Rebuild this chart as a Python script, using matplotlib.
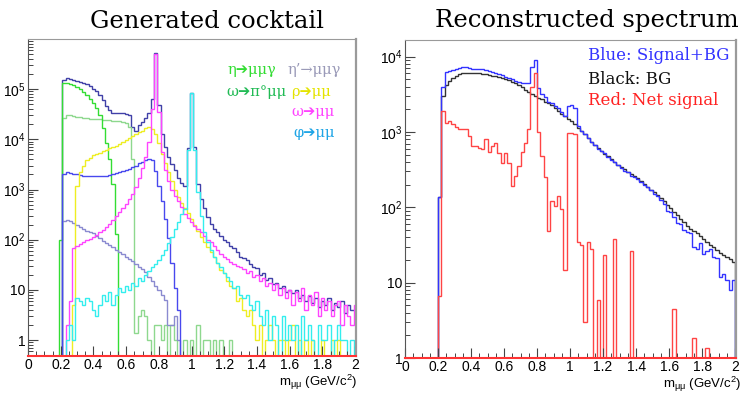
import numpy as np
import matplotlib
matplotlib.use("Agg")
import matplotlib.pyplot as plt
from matplotlib.ticker import FixedLocator, LogLocator, MultipleLocator, FuncFormatter, NullFormatter

plt.rcParams['font.family'] = ['Liberation Sans', 'DejaVu Sans']
plt.rcParams['mathtext.fontset'] = 'custom'
plt.rcParams['mathtext.rm'] = 'Liberation Sans'
plt.rcParams['mathtext.it'] = 'Liberation Sans'
plt.rcParams['mathtext.bf'] = 'Liberation Sans:bold'

NBINS = 100


def pad(first, vals):
    # put the read values into a 100 bin histogram, empty bins = 0
    out = [0] * first + list(vals)
    return out + [0] * (NBINS - len(out))


# ---- left: generated cocktail, 0.02 GeV bins, first edge 0.01 ----
left_lo = 0.01
left_w = 0.02

total = pad(10, [1.55e5, 1.65e5, 1.6e5, 1.55e5, 1.48e5, 1.42e5, 1.35e5, 1.25e5, 1.15e5, 1.03e5,
                 9.0e4, 7.5e4, 6.0e4, 4.6e4, 3.8e4, 3.4e4, 3.35e4, 3.3e4, 3.3e4, 3.25e4,
                 3.1e4, 1.8e4, 1.5e4, 1.9e4, 2.2e4, 2.7e4, 3.4e4, 6.5e4, 5.2e5, 4.8e4,
                 1.3e4, 7.0e3, 4.5e3, 3.2e3, 2.5e3, 1.7e3, 1.35e3, 1.2e3, 6.8e3, 8.4e4,
                 7.0e3, 1.3e3, 650, 420, 280, 210, 165, 140, 118, 100,
                 88, 76, 68, 58, 45, 44, 40, 32, 29, 27,
                 20, 22, 16, 17, 13, 14, 11, 12, 9, 10,
                 8.5, 10, 7, 8, 6, 7.5, 5.5, 7, 4.5, 6,
                 5, 7, 4, 5.5, 4.5, 6, 3.5, 5, 4, 4])
eta_mmg = pad(9, [100, 1.3e5, 1.35e5, 1.28e5, 1.2e5, 1.12e5, 1.02e5, 8.8e4, 7.5e4, 6.3e4, 5.3e4,
                  4.2e4, 3.0e4, 1.7e4, 8.5e3, 4.0e3, 1.3e3, 130])
omega_dalitz = pad(10, [2.7e4, 3.0e4, 3.0e4, 2.9e4, 2.8e4, 2.75e4, 2.7e4, 2.65e4, 2.6e4, 2.55e4,
                        2.5e4, 2.5e4, 2.45e4, 2.4e4, 2.4e4, 2.35e4, 2.3e4, 2.3e4, 2.2e4, 2.1e4,
                        1.8e4, 4.0e3, 1.4, 3, 4, 3, 1, 0, 2, 2,
                        1, 2, 0, 2, 1, 0, 0, 1, 0, 1,
                        0, 2, 0, 1, 1, 0, 1, 0, 1, 0,
                        0, 1])
etap_mmg = pad(10, [2.0e3, 2.2e3, 2.1e3, 2.0e3, 2.0e3, 1.95e3, 1.9e3, 1.9e3, 1.85e3, 1.85e3,
                    1.85e3, 1.9e3, 1.9e3, 1.9e3, 1.95e3, 2.0e3, 2.1e3, 2.2e3, 2.3e3, 2.4e3,
                    2.6e3, 2.8e3, 3.0e3, 3.3e3, 3.6e3, 3.9e3, 4.1e3, 3.8e3, 2.3e3, 1.2e3,
                    600, 260, 110, 35, 11, 4])
etap_low = pad(10, [240, 250, 235, 215, 195, 180, 160, 150, 140, 135,
                    120, 110, 95, 85, 80, 70, 62, 56, 52, 46,
                    42, 38, 33, 28, 26, 23, 18, 15, 12, 10,
                    8, 6.3, 2, 2, 3, 1])
rho_mm = pad(13, [5, 1.2e3, 2.2e3, 3.0e3, 3.8e3, 4.3e3, 4.8e3,
                  5.1e3, 5.4e3, 5.8e3, 6.2e3, 6.6e3, 7.0e3, 7.5e3, 8.2e3, 9.0e3, 9.8e3,
                  1.07e4, 1.15e4, 1.25e4, 1.37e4, 1.5e4, 1.65e4, 1.8e4, 1.6e4, 1.25e4, 8.3e3,
                  5.2e3, 3.3e3, 2.2e3, 1.5e3, 1.0e3, 720, 550, 430, 340, 260,
                  200, 150, 115, 90, 70, 56, 46, 35, 25, 22,
                  15, 12, 11, 6, 7, 4, 3, 4, 2, 1,
                  2, 0, 1, 2, 1, 0, 1, 1, 0, 1,
                  2, 0, 1, 0, 1, 0, 1, 0, 0, 1,
                  0, 0, 1, 0, 1])
omega_mm = pad(11, [2, 6, 68, 75, 82, 90, 98, 105, 115,
                    125, 140, 158, 180, 210, 250, 300, 360, 430, 520,
                    640, 800, 1.1e3, 1.7e3, 2.7e3, 4.5e3, 9e3, 4e4, 5.0e5, 3.5e4,
                    5.5e3, 2.5e3, 1.5e3, 1.0e3, 750, 580, 450, 330, 270, 230,
                    190, 160, 140, 120, 100, 88, 75, 62, 52, 46,
                    42, 36, 33, 30, 28, 26, 22, 24, 18, 20,
                    15, 17, 12, 14, 10, 13, 8, 11, 7, 10,
                    5, 9, 6, 11, 4, 8, 5, 9, 3, 7,
                    4, 6, 3, 5, 6, 2, 5, 3, 2, 5])
phi_mm = pad(11, [1, 2, 1, 7, 6, 5, 7, 6, 4,
                  3, 5, 8, 6, 9, 5, 8, 11, 9, 12,
                  10, 14, 12, 17, 15, 20, 24, 28, 32, 40,
                  50, 62, 85, 115, 160, 230, 330, 400, 6.0e3, 8.2e4,
                  6.0e3, 900, 300, 140, 90, 62, 45, 35, 29, 22,
                  18, 15, 11, 12, 8, 7, 8, 5, 4, 6,
                  3, 2, 4, 1, 3, 2, 0, 3, 1, 2,
                  1, 2, 0, 3, 1, 2, 1, 0, 2, 1,
                  1, 2, 0, 1, 2, 1, 1, 0, 1, 0])

# ---- right: reconstructed spectrum, 0.02 GeV bins from 0 ----
right_lo = 0.0
right_w = 0.02

sig_bg = pad(10, [135, 4.0e3, 6.2e3, 6.5e3, 6.6e3, 6.9e3, 7.0e3, 7.3e3, 7.2e3, 7.0e3,
                  6.9e3, 6.9e3, 6.8e3, 6.8e3, 6.6e3, 6.5e3, 6.3e3, 6.1e3, 5.8e3, 5.7e3,
                  5.4e3, 5.2e3, 5.0e3, 4.8e3, 4.6e3, 4.5e3, 4.5e3, 4.4e3, 7.3e3, 8.9e3,
                  3.8e3, 3.2e3, 2.9e3, 2.5e3, 2.4e3, 2.2e3, 2.05e3, 1.85e3, 1.65e3, 2.2e3,
                  2.3e3, 2.1e3, 1.2e3, 1.02e3, 940, 840, 730, 680, 600, 560,
                  520, 470, 420, 400, 365, 330, 300, 290, 262, 255,
                  240, 215, 195, 185, 168, 150, 140, 124, 110, 88,
                  86, 75, 62, 60, 50, 47, 45, 30, 28, 34,
                  24, 26, 28, 22, 21, 12, 13, 11, 8, 11])
bg = pad(10, [135, 3.0e3, 4.2e3, 4.8e3, 5.2e3, 5.6e3, 5.9e3, 6.0e3, 6.1e3, 6.1e3,
              6.1e3, 6.1e3, 6.0e3, 5.95e3, 5.9e3, 5.75e3, 5.6e3, 5.5e3, 5.35e3, 5.25e3,
              5.0e3, 4.85e3, 4.6e3, 4.45e3, 4.2e3, 3.9e3, 3.65e3, 3.4e3, 3.2e3, 3.0e3,
              2.85e3, 2.7e3, 2.5e3, 2.4e3, 2.25e3, 2.1e3, 1.9e3, 1.75e3, 1.62e3, 1.5e3,
              1.38e3, 1.26e3, 1.12e3, 1.02e3, 930, 830, 740, 675, 615, 560,
              515, 480, 437, 398, 365, 340, 320, 295, 280, 262,
              242, 222, 205, 188, 172, 158, 145, 132, 120, 108,
              97, 86, 78, 71, 63, 57, 52, 49, 45, 41,
              38, 35, 32, 29.5, 27.5, 25, 23.5, 22, 20.5, 18.6])
net = pad(10, [6.6, 1.9e3, 1.32e3, 1.38e3, 1.28e3, 1.15e3, 1.08e3, 1.08e3, 1.08e3, 890,
               650, 660, 620, 600, 800, 535, 650, 720, 520, 390,
               520, 390, 194, 262, 356, 534, 720, 1.08e3, 4.0e3, 6.1e3,
               1.0e3, 480, 250, 49, 123, 105, 142, 95, 14.6, 980,
               980, 930, 35, 32, 3, 35, 28, 0, 5.9, 0,
               23, 0, 0, 38, 0, 0, 0, 0, 26, 0,
               0, 0, 0, 0, 0, 0, 0, 0, 0, 0,
               0, 4.5, 0, 0, 0, 0, 0, 1.84, 0, 0,
               0, 1.35])

fig = plt.figure(figsize=(7.48, 3.96), dpi=100)
W, H = 748.0, 396.0
ax1 = fig.add_axes([28 / W, 40 / H, 328 / W, 317 / H])
ax2 = fig.add_axes([405 / W, 38 / H, 331 / W, 318 / H])

edges_l = left_lo + left_w * np.arange(NBINS + 1)
edges_r = right_lo + right_w * np.arange(NBINS + 1)

lw = 1.0
ax1.stairs(total, edges_l, color='#4040a8', lw=lw)
ax1.stairs(omega_dalitz, edges_l, color='#8ed88e', lw=lw)
ax1.stairs(eta_mmg, edges_l, color='#33dd33', lw=lw)
ax1.stairs(etap_low, edges_l, color='#8a8ad0', lw=lw)
ax1.stairs(etap_mmg, edges_l, color='#4848ee', lw=lw)
ax1.stairs(rho_mm, edges_l, color='#eeee22', lw=lw)
ax1.stairs(omega_mm, edges_l, color='#ff44ff', lw=lw)
ax1.stairs(phi_mm, edges_l, color='#33eeee', lw=lw)

ax2.stairs(bg, edges_r, color='#333333', lw=lw)
ax2.stairs(sig_bg, edges_r, color='#3333ff', lw=lw)
ax2.stairs(net, edges_r, color='#ff4444', lw=lw)


def ylab(v, pos):
    if v < 5:
        return '1'
    if v < 50:
        return '10'
    return r'$\mathregular{10^{%d}}$' % int(round(np.log10(v)))


for ax, ymin, ymax, majors in [(ax1, 0.48, 1.0e6, [1, 10, 1e2, 1e3, 1e4, 1e5]),
                               (ax2, 1.0, 1.66e4, [1, 10, 1e2, 1e3, 1e4])]:
    ax.set_yscale('log', nonpositive='clip')
    ax.set_xlim(0, 2.005)
    ax.set_ylim(ymin, ymax)
    ax.yaxis.set_major_locator(FixedLocator(majors))
    ax.yaxis.set_minor_locator(LogLocator(base=10, subs=np.arange(2, 10), numticks=20))
    ax.yaxis.set_major_formatter(FuncFormatter(ylab))
    ax.yaxis.set_minor_formatter(NullFormatter())
    ax.xaxis.set_major_locator(MultipleLocator(0.2))
    ax.xaxis.set_minor_locator(MultipleLocator(0.05))
    ax.xaxis.set_major_formatter(FuncFormatter(lambda v, p: '%g' % round(v, 1)))
    ax.tick_params(which='both', direction='in', top=False, right=False,
                   color='#444444', labelsize=10, pad=2)
    ax.tick_params(axis='x', pad=1.5)
    ax.tick_params(which='major', length=7, width=0.8)
    ax.tick_params(which='minor', length=3.5, width=0.7)
    ax.spines['top'].set_color('#9a9a9a')
    ax.spines['right'].set_color('#9a9a9a')
    ax.spines['right'].set_linewidth(1.6)
    ax.spines['left'].set_color('#555555')
    ax.spines['left'].set_linewidth(0.8)
    ax.spines['bottom'].set_color('#ff3333')
    ax.spines['bottom'].set_linewidth(1.5)

# titles
fig.text(207 / W, 1 - 21 / H, 'Generated cocktail', family='DejaVu Serif',
         fontsize=17.5, ha='center', va='center')
fig.text(587 / W, 1 - 21 / H, 'Reconstructed spectrum', family='DejaVu Serif',
         fontsize=17.5, ha='center', va='center')

# axis titles, just under the tick labels
fig.text(357 / W, 1 - 373 / H, r'm$_{μμ}$ (GeV/c$^{2}$)', fontsize=9.5,
         ha='right', va='top')
fig.text(741 / W, 1 - 375 / H, r'm$_{μμ}$ (GeV/c$^{2}$)', fontsize=9.5,
         ha='right', va='top')

# channel labels, left panel
serif = ['DejaVu Serif', 'DejaVu Sans']
labels_left = [
    ('η➔μμγ', 228, 70, '#33dd33'),
    ('η’→μμγ', 288, 70, '#9a9ab8'),
    ('ω➔π°μμ', 226, 92, '#22bb55'),
    ('ρ➔μμ', 291, 92, '#e4e400'),
    ('ω➔μμ', 291, 112, '#ff44ff'),
    ('φ➔μμ', 293, 133, '#1fa5e6'),
]
for txt, x, y, c in labels_left:
    fig.text(x / W, 1 - y / H, txt, family=serif, fontsize=10.5, color=c,
             ha='left', va='center')

# right panel legend
labels_right = [
    ('Blue: Signal+BG', 56, '#3333ff'),
    ('Black: BG', 79, '#111111'),
    ('Red: Net signal', 101, '#ff2222'),
]
for txt, y, c in labels_right:
    fig.text(588 / W, 1 - y / H, txt, family=serif, fontsize=12, color=c,
             ha='left', va='center')

fig.savefig('out.png', dpi=100)
